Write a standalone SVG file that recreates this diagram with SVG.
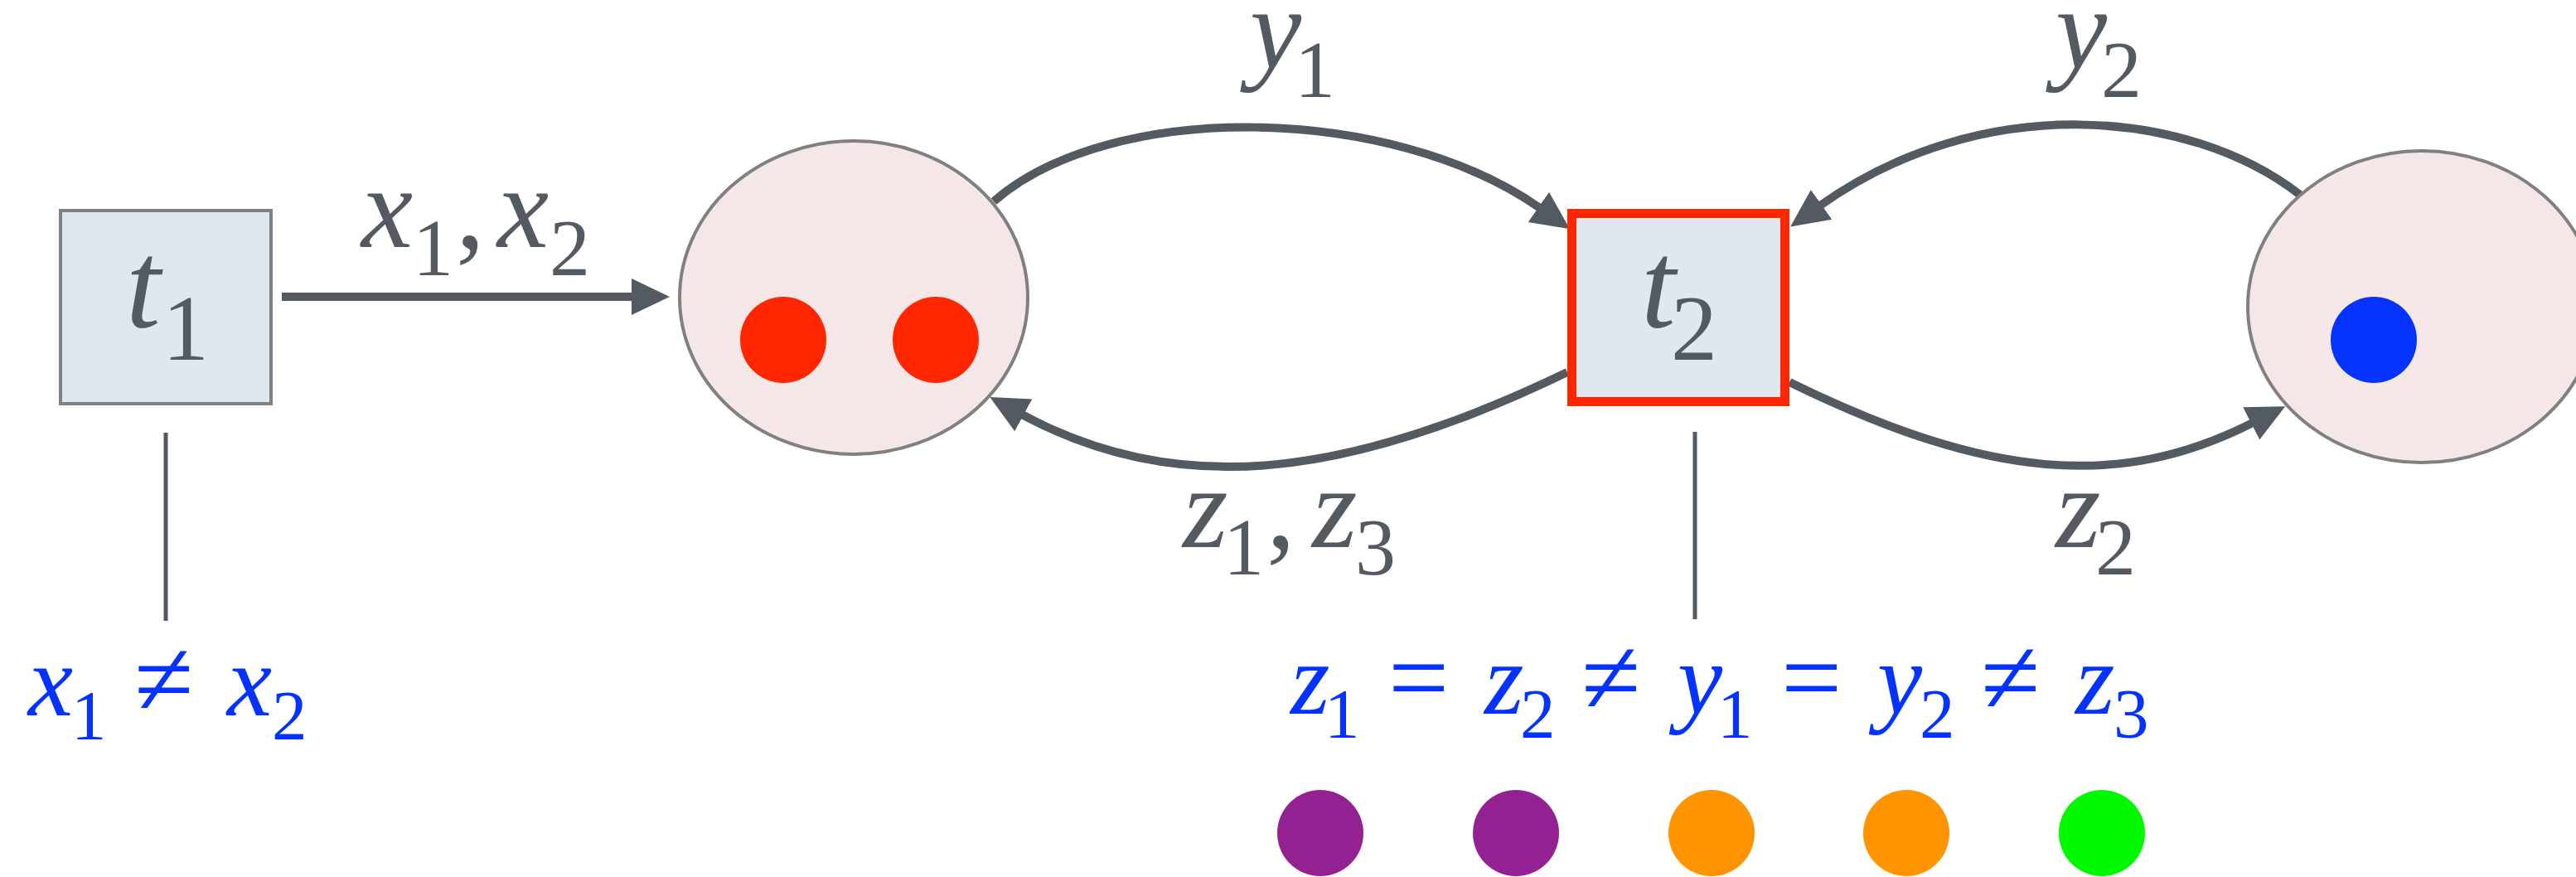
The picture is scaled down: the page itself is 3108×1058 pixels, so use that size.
<svg xmlns="http://www.w3.org/2000/svg" width="3108" height="1058" viewBox="0 0 3108 1058">
<defs>
<style>
.lbl{font-family:"Liberation Serif","Times New Roman",serif;fill:#545a61}
.blue{font-family:"Liberation Serif","Times New Roman",serif;fill:#0433ff}
.v{font-style:italic}
.place{fill:#f5e7e7;stroke:#808080;stroke-width:4}
.trans{fill:#e1e7ef;stroke:#808080;stroke-width:4}
.hot{fill:#e1e7ef;stroke:#ff2600;stroke-width:11}
.arc{fill:none;stroke:#545a61;stroke-width:10}
.tick{stroke:#545a61;stroke-width:5}
</style>
<marker id="ah" markerUnits="userSpaceOnUse" markerWidth="48" markerHeight="46" viewBox="0 0 48 46" refX="2" refY="23" orient="auto">
<path d="M0,1 L46,23 L0,45 z" fill="#545a61"/>
</marker>
</defs>

<g id="connectors">
<path class="arc" d="M340,358 L764,358" marker-end="url(#ah)"/>
<path class="arc" d="M1199,243 C1340,120 1678,125 1858,251" marker-end="url(#ah)"/>
<path class="arc" d="M1891,449 C1620,580 1418,600 1233,500" marker-end="url(#ah)"/>
<path class="arc" d="M2775,235 C2640,130 2390,110 2196,248" marker-end="url(#ah)"/>
<path class="arc" d="M2159,461 C2400,579 2558,591 2718,510" marker-end="url(#ah)"/>
<line class="tick" x1="200" y1="522" x2="200" y2="749"/>
<line class="tick" x1="2045" y1="521" x2="2045" y2="747"/>
</g>

<g id="t1">
<rect class="trans" x="73" y="254" width="254" height="233"/>
<text class="lbl"><tspan class="v" x="152" y="395" font-size="150">t</tspan><tspan x="196" y="434" font-size="112">1</tspan></text>
</g>

<g id="p1">
<ellipse class="place" cx="1030" cy="359" rx="210" ry="189"/>
<circle cx="945" cy="410" r="52" fill="#ff2600"/>
<circle cx="1129" cy="410" r="52" fill="#ff2600"/>
</g>

<g id="t2">
<rect class="hot" x="1896.5" y="257.5" width="257" height="227"/>
<text class="lbl"><tspan class="v" x="1980" y="395" font-size="150">t</tspan><tspan x="2016" y="434" font-size="112">2</tspan></text>
</g>

<g id="p2">
<ellipse class="place" cx="2922" cy="370" rx="210" ry="188"/>
<circle cx="2864" cy="410" r="52" fill="#0433ff"/>
</g>

<g id="arc-labels">
<text class="lbl"><tspan class="v" x="436" y="298" font-size="140">x</tspan><tspan x="498" y="332" font-size="98">1</tspan><tspan x="550" y="298" font-size="140">,</tspan><tspan class="v" x="600" y="298" font-size="140">x</tspan><tspan x="663" y="332" font-size="98">2</tspan></text>
<text class="lbl"><tspan class="v" x="1508" y="82" font-size="140">y</tspan><tspan x="1562" y="117" font-size="98">1</tspan></text>
<text class="lbl"><tspan class="v" x="2480" y="82" font-size="140">y</tspan><tspan x="2535" y="117" font-size="98">2</tspan></text>
<text class="lbl"><tspan class="v" x="1427" y="660" font-size="140">z</tspan><tspan x="1476" y="693" font-size="98">1</tspan><tspan x="1528" y="660" font-size="140">,</tspan><tspan class="v" x="1583" y="660" font-size="140">z</tspan><tspan x="1635" y="693" font-size="98">3</tspan></text>
<text class="lbl"><tspan class="v" x="2480" y="660" font-size="140">z</tspan><tspan x="2528" y="693" font-size="98">2</tspan></text>
</g>

<g id="guard-t1">
<text class="blue"><tspan class="v" x="34" y="863" font-size="122">x</tspan><tspan x="86" y="892" font-size="85">1</tspan><tspan x="162" y="863" font-size="130">≠</tspan><tspan class="v" x="274" y="863" font-size="122">x</tspan><tspan x="328" y="892" font-size="85">2</tspan></text>
</g>

<g id="guard-t2">
<text class="blue"><tspan class="v" x="1557" y="861" font-size="122">z</tspan><tspan x="1598" y="890" font-size="85">1</tspan><tspan x="1675" y="861" font-size="130">=</tspan><tspan class="v" x="1791" y="861" font-size="122">z</tspan><tspan x="1834" y="890" font-size="85">2</tspan><tspan x="1908" y="861" font-size="130">≠</tspan><tspan class="v" x="2024" y="861" font-size="122">y</tspan><tspan x="2072" y="890" font-size="85">1</tspan><tspan x="2149" y="861" font-size="130">=</tspan><tspan class="v" x="2265" y="861" font-size="122">y</tspan><tspan x="2316" y="890" font-size="85">2</tspan><tspan x="2390" y="861" font-size="130">≠</tspan><tspan class="v" x="2504" y="861" font-size="122">z</tspan><tspan x="2550" y="890" font-size="85">3</tspan></text>
<circle cx="1593" cy="1005" r="52" fill="#942192"/>
<circle cx="1829" cy="1005" r="52" fill="#942192"/>
<circle cx="2065" cy="1005" r="52" fill="#ff9300"/>
<circle cx="2300" cy="1005" r="52" fill="#ff9300"/>
<circle cx="2536" cy="1005" r="52" fill="#00f900"/>
</g>
</svg>
